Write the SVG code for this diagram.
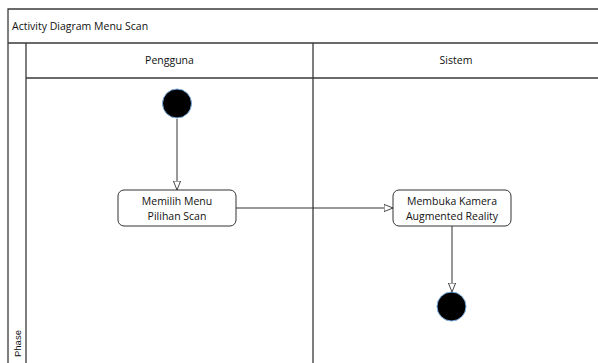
<svg xmlns="http://www.w3.org/2000/svg" width="598" height="363" viewBox="0 0 598 363">
  <style>
    .frame { fill: none; stroke: #3a3a3a; stroke-width: 1.3; }
    .lbl { font-family: "Open Sans", "Liberation Sans", sans-serif; font-size: 10.5px; fill: #111; }
    .ph { font-family: "Liberation Sans", Arial, sans-serif; font-size: 9.5px; fill: #111; }
    .act { fill: #fff; stroke: #333; stroke-width: 1; }
    .node { fill: #000; stroke: #7aaee0; stroke-width: 1; }
    .conn { fill: none; stroke: #333; stroke-width: 1; }
  </style>
  <defs>
    <marker id="arr" viewBox="0 0 10 10" refX="10" refY="5" markerWidth="9" markerHeight="9" markerUnits="userSpaceOnUse" orient="auto">
      <path d="M0,1 L10,5 L0,9 Z" fill="#fff" stroke="#333" stroke-width="1"/>
    </marker>
  </defs>
  <rect width="598" height="363" fill="#fff"/>
  <g id="frame">
    <path class="frame" d="M8,363 V9 H598 M8,43 H598 M26,78 H598 M26,43 V363 M313,43 V363"/>
    <text class="lbl" x="12" y="30">Activity Diagram Menu Scan</text>
    <text class="lbl" x="169.5" y="64" text-anchor="middle">Pengguna</text>
    <text class="lbl" x="456" y="64" text-anchor="middle">Sistem</text>
    <text class="ph" transform="translate(20.5,357) rotate(-90)">Phase</text>
  </g>
  <g id="connectors">
    <line class="conn" x1="177" y1="119" x2="177" y2="190" marker-end="url(#arr)"/>
    <line class="conn" x1="236" y1="208" x2="393" y2="208" marker-end="url(#arr)"/>
    <line class="conn" x1="452" y1="226" x2="452" y2="292" marker-end="url(#arr)"/>
  </g>
  <g id="start">
    <circle class="node" cx="177" cy="103.5" r="14.5"/>
  </g>
  <g id="memilih">
    <rect class="act" x="118" y="190" width="118" height="36" rx="6"/>
    <text class="lbl" x="177" y="205" text-anchor="middle">Memilih Menu</text>
    <text class="lbl" x="177" y="219.5" text-anchor="middle">Pilihan Scan</text>
  </g>
  <g id="membuka">
    <rect class="act" x="393" y="190" width="118" height="36" rx="6"/>
    <text class="lbl" x="452" y="205" text-anchor="middle">Membuka Kamera</text>
    <text class="lbl" x="452" y="219.5" text-anchor="middle">Augmented Reality</text>
  </g>
  <g id="end">
    <circle class="node" cx="451.5" cy="306.5" r="14.5"/>
  </g>
</svg>
